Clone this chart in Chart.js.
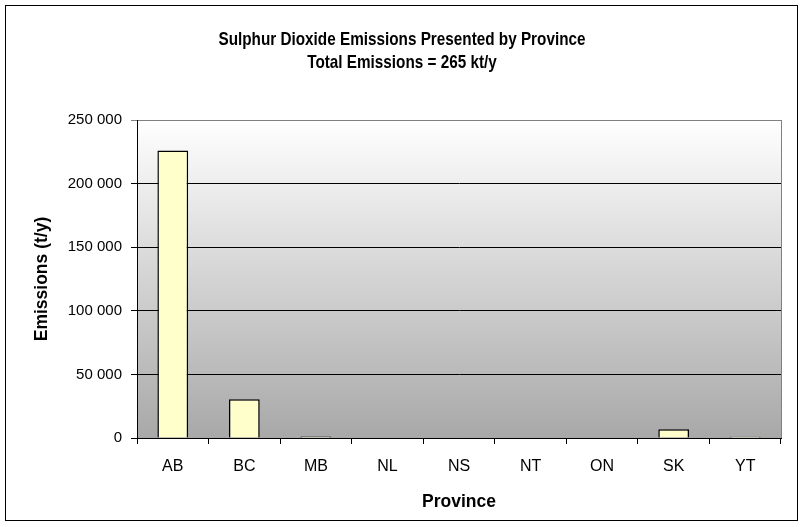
<!DOCTYPE html>
<html>
<head>
<meta charset="utf-8">
<script src="https://cdn.jsdelivr.net/npm/chart.js@4"></script>
<style>
  html, body { margin: 0; padding: 0; background: #fff; }
  #wrap { width: 803px; height: 527px; }
</style>
</head>
<body>
<div id="wrap"><canvas id="barChart" width="803" height="527"></canvas></div>
<script>
// data
const provinces = ['AB', 'BC', 'MB', 'NL', 'NS', 'NT', 'ON', 'SK', 'YT'];
const emissions = [226000, 30500, 1200, 0, 0, 0, 0, 6800, 1000];
const titleLines = ['Sulphur Dioxide Emissions Presented by Province', 'Total Emissions = 265 kt/y'];

const FONT = '"Liberation Sans", Arial, sans-serif';

// outer frame, gradient plot background and the title
const framePlugin = {
  id: 'frame',
  beforeDraw(chart) {
    const { ctx, chartArea: a } = chart;
    ctx.save();
    ctx.fillStyle = '#fff';
    ctx.fillRect(0, 0, chart.width, chart.height);
    ctx.strokeStyle = '#000';
    ctx.lineWidth = 1;
    ctx.strokeRect(5.5, 5.5, 792, 515);
    const g = ctx.createLinearGradient(0, a.top, 0, a.bottom);
    g.addColorStop(0, '#ffffff');
    g.addColorStop(1, '#a8a8a8');
    ctx.fillStyle = g;
    ctx.fillRect(a.left, a.top, a.right - a.left, a.bottom - a.top);
    ctx.strokeStyle = '#808080';
    ctx.strokeRect(a.left + 0.5, a.top + 0.5, a.right - a.left, a.bottom - a.top);
    ctx.restore();
  },
  afterDraw(chart) {
    const ctx = chart.ctx;
    ctx.save();
    ctx.fillStyle = '#000';
    ctx.font = 'bold 19px ' + FONT;
    ctx.textAlign = 'center';
    ctx.textBaseline = 'middle';
    // reference title is slightly condensed
    const sx = 367 / ctx.measureText(titleLines[0]).width;
    ctx.translate(402, 0);
    ctx.scale(sx, 1);
    ctx.fillText(titleLines[0], 0, 40);
    ctx.fillText(titleLines[1], 0, 63);
    ctx.restore();
  }
};

new Chart(document.getElementById('barChart').getContext('2d'), {
  type: 'bar',
  data: {
    labels: provinces,
    datasets: [{
      data: emissions,
      backgroundColor: '#ffffcc',
      borderColor: '#000',
      borderWidth: 1.5,
      categoryPercentage: 1,
      barPercentage: 0.43
    }]
  },
  options: {
    responsive: false,
    animation: false,
    layout: { padding: { left: 10, right: 22, top: 120, bottom: 10 } },
    plugins: {
      legend: { display: false },
      tooltip: { enabled: false }
    },
    scales: {
      x: {
        afterFit(s) { s.height = 79; },
        grid: { drawOnChartArea: false, color: '#000', tickLength: 6 },
        border: { color: '#000', width: 1 },
        ticks: { color: '#000', font: { family: FONT, size: 16 }, padding: 13 },
        title: {
          display: true, text: 'Province', color: '#000',
          font: { family: FONT, size: 17.5, weight: 'bold' }, padding: { top: 13.5 }
        }
      },
      y: {
        min: 0,
        max: 250000,
        afterFit(s) { s.width = 127; },
        grid: {
          color: ctx => ctx.tick && ctx.tick.value === 250000 ? '#808080' : '#000',
          tickLength: 6
        },
        border: { color: '#000', width: 1 },
        ticks: {
          stepSize: 50000,
          color: '#000',
          font: { family: FONT, size: 15 },
          padding: 9,
          callback: v => String(v).replace(/\B(?=(\d{3})+(?!\d))/g, ' ')
        },
        title: {
          display: true, text: 'Emissions (t/y)', color: '#000',
          font: { family: FONT, size: 17.5, weight: 'bold' }, padding: { top: 21.5 }
        }
      }
    }
  },
  plugins: [framePlugin]
});
</script>
</body>
</html>
